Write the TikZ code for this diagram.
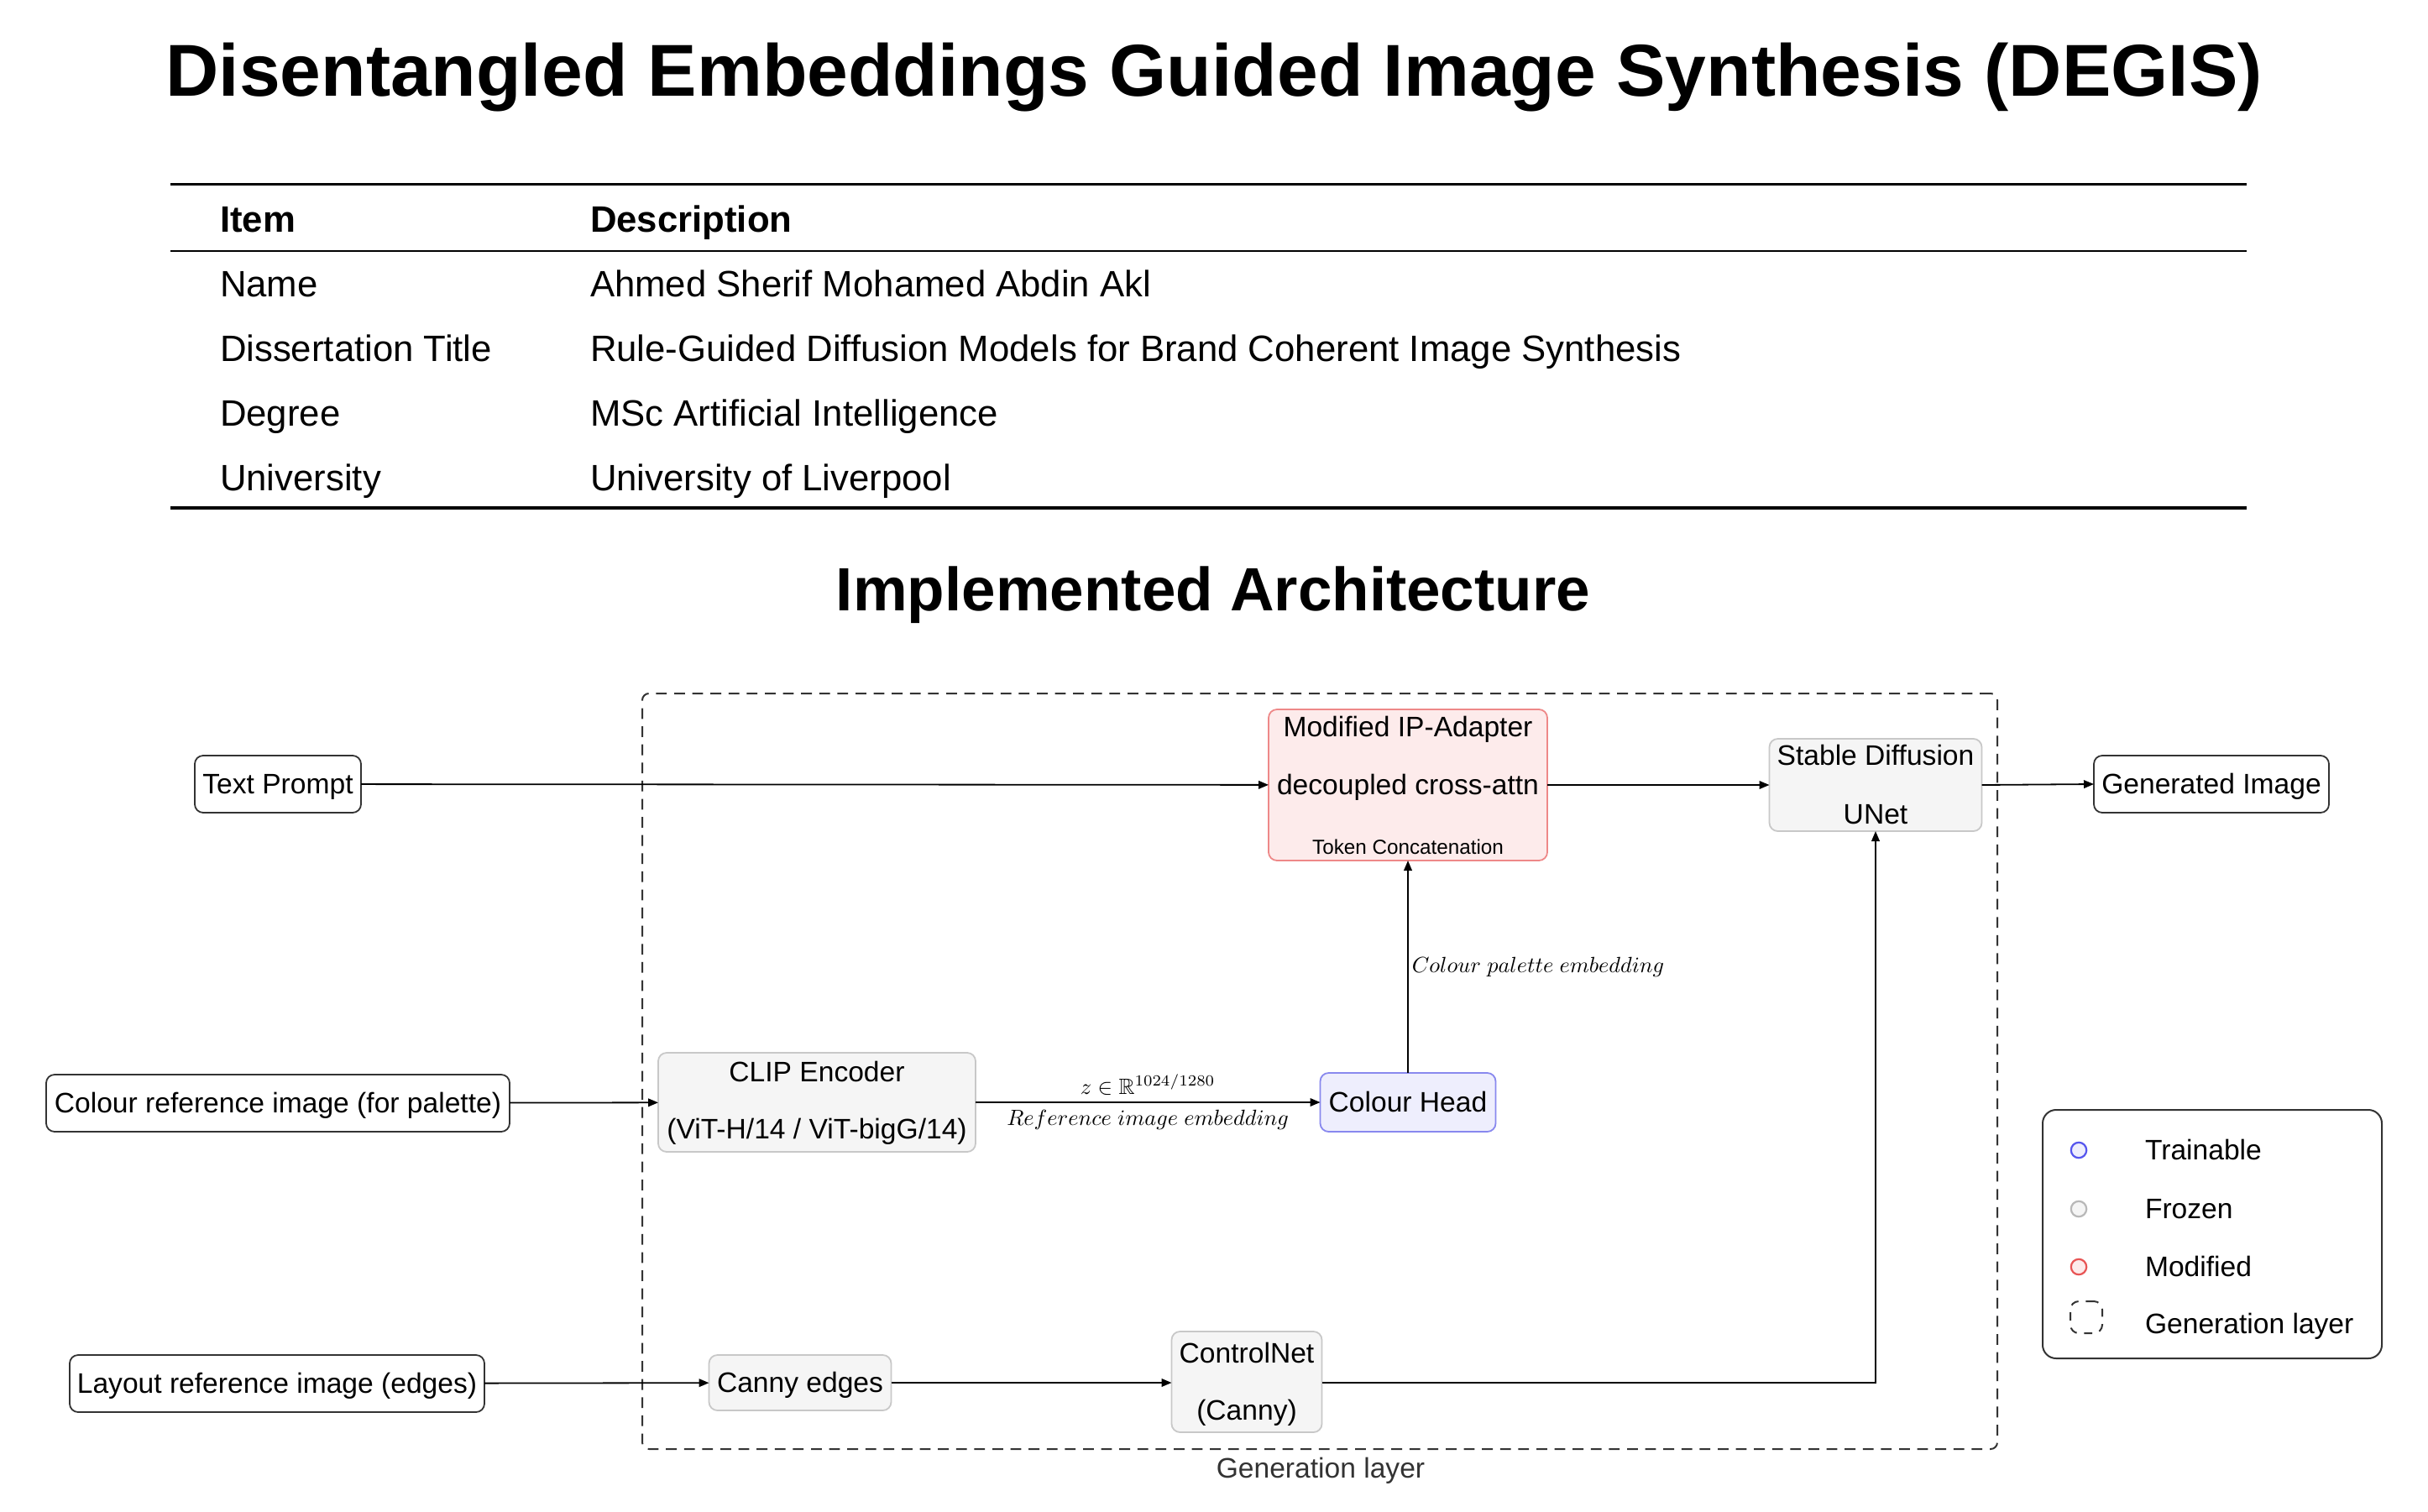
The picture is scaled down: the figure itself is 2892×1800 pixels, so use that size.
\documentclass[tikz,border=0pt]{standalone}
\usepackage[no-math]{fontspec}
\setmainfont{Liberation Sans}
\usepackage{amssymb}
\usetikzlibrary{arrows.meta}
\definecolor{iodraw}{HTML}{333333}
\definecolor{frzdraw}{HTML}{C8C8C8}
\definecolor{frzfill}{HTML}{F5F5F5}
\definecolor{moddraw}{HTML}{EE8888}
\definecolor{modfill}{HTML}{FDEBEB}
\definecolor{trdraw}{HTML}{8888EE}
\definecolor{trfill}{HTML}{EEEEFD}
\definecolor{mkblue}{HTML}{5555EE}
\definecolor{mkgray}{HTML}{B8B8B8}
\definecolor{mkred}{HTML}{E85555}
\definecolor{genc}{HTML}{333333}
\newcommand{\mlabtext}[1]{\scalebox{0.658}{\fontsize{10}{12}\selectfont$#1$}}
\begin{document}
\begin{tikzpicture}[x=0.25pt,y=-0.25pt,
  every node/.style={inner sep=0pt, outer sep=0pt},
  dfont/.style={font=\fontsize{8.4}{10}\selectfont, text height=6.1pt, text depth=0.5pt},
  sfont/.style={font=\fontsize{6.06}{7}\selectfont, text height=4.4pt, text depth=0.4pt},
  tfont/.style={font=\fontsize{10.93}{13}\selectfont},
  thfont/.style={font=\fontsize{10.93}{13}\selectfont\bfseries},
  iobox/.style={draw=iodraw, fill=white, rounded corners=2.5pt, line width=0.45pt, dfont},
  frozen/.style={draw=frzdraw, fill=frzfill, rounded corners=2.5pt, line width=0.45pt},
  modbox/.style={draw=moddraw, fill=modfill, rounded corners=2.5pt, line width=0.45pt},
  trbox/.style={draw=trdraw, fill=trfill, rounded corners=2.5pt, line width=0.45pt, dfont},
  txt/.style={dfont},
  arr/.style={-{Triangle[length=3pt,width=2.4pt]}, line width=0.45pt, draw=black},
  genbox/.style={draw=genc, dash pattern=on 3.2pt off 2.2pt, line width=0.5pt, rounded corners=2pt},
  legmark/.style={circle, line width=0.55pt, minimum size=4.6pt}
]
\useasboundingbox (0,0) rectangle (2892,1800);
\fill[white] (0,0) rectangle (2892,1800);

% Title
\node[anchor=base, font=\fontsize{21.9}{26}\selectfont\bfseries] (title) at (1446,114) {Disentangled Embeddings Guided Image Synthesis (DEGIS)};

% Table
\draw[line width=0.8pt] (203,219.5) -- (2676,219.5);
\draw[line width=0.5pt] (203,299) -- (2676,299);
\draw[line width=0.8pt] (203,605) -- (2676,605);
\node[thfont, anchor=base west] (hitem) at (262,276) {Item};
\node[thfont, anchor=base west] (hdesc) at (703,276) {Description};
\node[tfont, anchor=base west] (r1a) at (262,353) {Name};
\node[tfont, anchor=base west] (r1b) at (703,353) {Ahmed Sherif Mohamed Abdin Akl};
\node[tfont, anchor=base west] (r2a) at (262,430) {Dissertation Title};
\node[tfont, anchor=base west] (r2b) at (703,430) {Rule-Guided Diffusion Models for Brand Coherent Image Synthesis};
\node[tfont, anchor=base west] (r3a) at (262,507) {Degree};
\node[tfont, anchor=base west] (r3b) at (703,507) {MSc Artificial Intelligence};
\node[tfont, anchor=base west] (r4a) at (262,584) {University};
\node[tfont, anchor=base west] (r4b) at (703,584) {University of Liverpool};

% Heading
\node[anchor=base, font=\fontsize{18.2}{22}\selectfont\bfseries] (heading) at (1445,727) {Implemented Architecture};

% Generation layer container
\node[genbox, minimum width=403.5pt, minimum height=225pt] (gen) at (1572,1276) {};
\node[dfont, text=genc] (genlab) at (1573,1749) {Generation layer};

% Boxes
\node[iobox, minimum width=49.5pt, minimum height=17pt] (tp) at (331,934) {Text Prompt};
\node[modbox, minimum width=83pt, minimum height=45pt] (ip) at (1677,935) {};
\node[txt] (ip1) at (1677,866) {Modified IP-Adapter};
\node[txt] (ip2) at (1677,935) {decoupled cross-attn};
\node[sfont] (ip3) at (1677,1009) {Token Concatenation};
\node[frozen, minimum width=63.25pt, minimum height=27.5pt] (sd) at (2234,935) {};
\node[txt] (sd1) at (2234,900) {Stable Diffusion};
\node[txt] (sd2) at (2234,970) {UNet};
\node[iobox, minimum width=70pt, minimum height=17pt] (gi) at (2634,934) {Generated Image};

\node[iobox, minimum width=138pt, minimum height=17pt] (cr) at (331,1314) {Colour reference image (for palette)};
\node[frozen, minimum width=94.5pt, minimum height=29.5pt] (clip) at (973,1313) {};
\node[txt] (clip1) at (973,1277) {CLIP Encoder};
\node[txt] (clip2) at (973,1345) {(ViT-H/14 / ViT-bigG/14)};
\node[trbox, minimum width=52.25pt, minimum height=17.5pt] (ch) at (1677,1313) {Colour Head};

\node[iobox, minimum width=123.5pt, minimum height=17pt] (lr) at (330,1648) {Layout reference image (edges)};
\node[frozen, minimum width=54.25pt, minimum height=16.5pt, dfont] (ce) at (953,1647) {Canny edges};
\node[frozen, minimum width=44.75pt, minimum height=30pt] (cn) at (1485,1646) {};
\node[txt] (cn1) at (1485,1612) {ControlNet};
\node[txt] (cn2) at (1485,1680) {(Canny)};

% Connectors
\draw[arr] (tp) -- (ip);
\draw[arr] (ip) -- (sd);
\draw[arr] (sd.east) -- (gi.west);
\draw[arr] (cr) -- (clip);
\draw[arr] (clip) -- node[above=2.2pt] (zlab) {\mlabtext{z \in \mathbb{R}^{1024/1280}}} node[below=2.2pt] (reflab) {\mlabtext{Reference\ image\ embedding}} (ch);
\draw[arr] (ch.north) -- node[midway, right=1.2pt] (cplab) {\mlabtext{Colour\ palette\ embedding}} (ip.south);
\draw[arr] (lr) -- (ce);
\draw[arr] (ce.east) -- (ce.east -| cn.west);
\draw[arr] (cn.east |- ce.east) -| (sd.south);

% Legend
\node[draw=iodraw, line width=0.5pt, rounded corners=4pt, minimum width=101pt, minimum height=74pt] (legend) at (2635,1470) {};
\node[legmark, draw=mkblue, fill=trfill] (mk1) at (2476,1370) {};
\node[legmark, draw=mkgray, fill=frzfill] (mk2) at (2476,1440) {};
\node[legmark, draw=mkred, fill=modfill] (mk3) at (2476,1509) {};
\node[draw=genc, dash pattern=on 2.4pt off 2.2pt, line width=0.5pt, rounded corners=2.5pt, minimum width=9.5pt, minimum height=9.5pt] (mk4) at (2485,1569) {};
\node[txt, anchor=west] (lg1) at (2555,1370) {Trainable};
\node[txt, anchor=west] (lg2) at (2555,1440) {Frozen};
\node[txt, anchor=west] (lg3) at (2555,1509) {Modified};
\node[txt, anchor=west] (lg4) at (2555,1577) {Generation layer};
\end{tikzpicture}
\end{document}
